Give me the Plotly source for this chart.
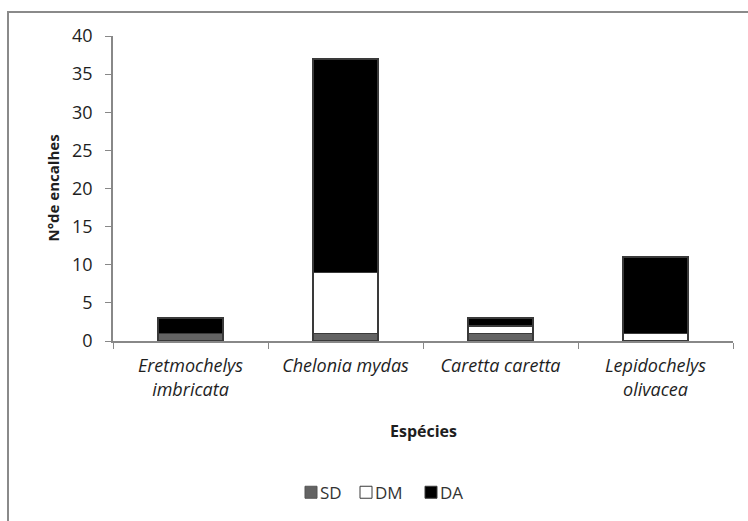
import plotly.graph_objects as go

especies = ["Eretmochelys<br>imbricata", "Chelonia mydas", "Caretta caretta", "Lepidochelys<br>olivacea"]
sd = [1, 1, 1, 0]
dm = [0, 8, 1, 1]
da = [2, 28, 1, 10]
y_ticks = [0, 5, 10, 15, 20, 25, 30, 35, 40]
series = [("SD", sd, "#636363"), ("DM", dm, "#ffffff"), ("DA", da, "#000000")]

FONT = "'Open Sans', 'DejaVu Sans', sans-serif"
OUTLINE = "#3a3a3a"
TEXT = "#1e1e1e"

# plot-area geometry in pixels (for placing titles and legend in paper units)
W, H = 748, 521
L, R, T, B = 113, 15, 36, 179.5
PW, PH = W - L - R, H - T - B


def px(x):
    return (x - L) / PW


def py(y):
    return (H - B - y) / PH


fig = go.Figure()
for name, vals, color in series:
    fig.add_trace(go.Bar(
        name=name, x=especies, y=vals,
        marker=dict(color=color, line=dict(color=OUTLINE, width=1.5)),
        width=0.42, showlegend=False,
    ))

fig.update_layout(
    barmode="stack",
    width=W, height=H,
    margin=dict(l=L, r=R, t=T, b=B),
    paper_bgcolor="white", plot_bgcolor="white",
    font=dict(family=FONT, size=15, color=TEXT),
    xaxis=dict(
        showline=True, linecolor="#888", linewidth=1.5,
        ticks="outside", tickson="boundaries", ticklen=6, tickcolor="#888",
        tickfont=dict(family=FONT, size=18, style="italic", color=TEXT),
        ticklabelstandoff=8,
    ),
    yaxis=dict(
        range=[0, 40], tickvals=y_ticks, showgrid=False,
        showline=True, linecolor="#888", linewidth=1.5,
        ticks="outside", ticklen=6, tickcolor="#888",
        tickfont=dict(family=FONT, size=18, color=TEXT),
        ticklabelstandoff=9,
        zeroline=False,
    ),
)

# axis titles
fig.add_annotation(text="<b>Espécies</b>", xref="paper", yref="paper",
                   x=0.5, y=py(432), xanchor="center", yanchor="middle",
                   showarrow=False, font=dict(family=FONT, size=16, color=TEXT))
fig.add_annotation(text="<b>N°de encalhes</b>", xref="paper", yref="paper",
                   x=px(52), y=0.5, xanchor="center", yanchor="middle", textangle=-90,
                   showarrow=False, font=dict(family=FONT, size=15, color=TEXT))

# legend: swatch followed by label
legend_x = [305, 360, 425]
for (name, _, color), x0 in zip(series, legend_x):
    fig.add_shape(type="rect", xref="paper", yref="paper",
                  x0=px(x0), x1=px(x0 + 12), y0=py(499), y1=py(487),
                  line=dict(color=OUTLINE if color != "#636363" else "#555", width=1),
                  fillcolor=color)
    fig.add_annotation(text=name, xref="paper", yref="paper",
                       x=px(x0 + 13), y=py(493), xanchor="left", yanchor="middle",
                       showarrow=False, font=dict(family=FONT, size=17, color="#333"))

# outer chart frame
fig.add_shape(type="rect", xref="paper", yref="paper",
              x0=px(8), x1=1.2, y0=-0.7, y1=py(12),
              line=dict(color="#8a8a8a", width=2), fillcolor="rgba(0,0,0,0)", layer="below")

fig.write_html("out.html")
